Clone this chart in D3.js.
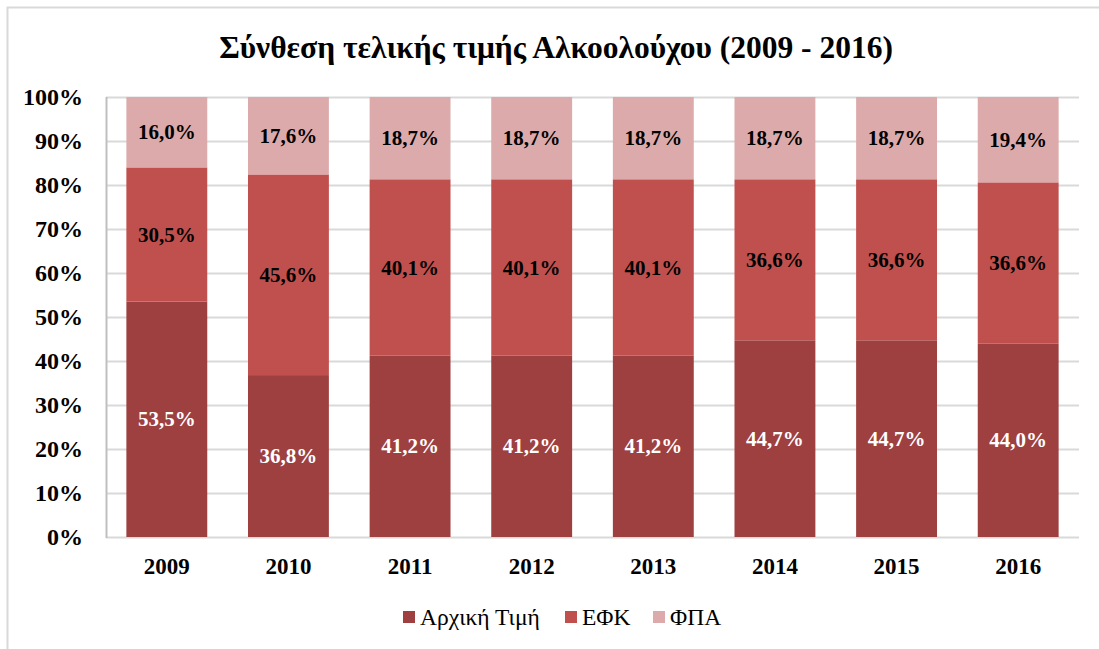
<!DOCTYPE html>
<meta charset="utf-8">
<style>
    body { margin: 0; background: #fff; }
    svg text { font-family: "Liberation Serif", "Times New Roman", serif; }
</style>
<script src="https://d3js.org/d3.v7.min.js"></script>
<body>
<div id="chart"></div>
<script>

    // chart data
    var years = ["2009", "2010", "2011", "2012", "2013", "2014", "2015", "2016"];
    var seriesNames = ["Αρχική Τιμή", "ΕΦΚ", "ΦΠΑ"];
    var arxikiTimi = [53.5, 36.8, 41.2, 41.2, 41.2, 44.7, 44.7, 44.0];
    var efk = [30.5, 45.6, 40.1, 40.1, 40.1, 36.6, 36.6, 36.6];
    var fpa = [16.0, 17.6, 18.7, 18.7, 18.7, 18.7, 18.7, 19.4];
    var yTicks = [0, 10, 20, 30, 40, 50, 60, 70, 80, 90, 100];
    var colors = ["#9e4040", "#c0504d", "#dcaaaa"];
    var labelColors = ["#fff", "#000", "#000"];

    var W = 1099, H = 649;
    var margin = {top: 97, right: 20, bottom: 112, left: 106};
    var width = 1079 - margin.left,
        height = 537 - margin.top;

    var svg = d3.select("#chart")
        .append("svg")
        .attr("width", W)
        .attr("height", H);

    // frame (only top and left edges visible)
    svg.append("path")
        .attr("d", "M7.5," + H + " V7.5 H" + W)
        .attr("fill", "none")
        .attr("stroke", "#d9d9d9")
        .attr("stroke-width", 2);

    svg.append("text")
        .attr("x", 556)
        .attr("y", 58)
        .attr("text-anchor", "middle")
        .style("font-size", "31.5px")
        .style("font-weight", "bold")
        .text("Σύνθεση τελικής τιμής Αλκοολούχου (2009 - 2016)");

    var g = svg.append("g")
        .attr("transform", "translate(" + margin.left + "," + margin.top + ")");

    var x = d3.scaleBand()
        .domain(years)
        .range([0, width])
        .paddingInner(0.335)
        .paddingOuter(0.1675);

    var y = d3.scaleLinear()
        .domain([0, 100])
        .range([height, 0]);

    // gridlines
    g.append("g")
        .selectAll("line")
        .data(yTicks)
        .enter()
        .append("line")
        .attr("x1", 0)
        .attr("x2", width)
        .attr("y1", function (d) { return Math.round(y(d)) + 0.5; })
        .attr("y2", function (d) { return Math.round(y(d)) + 0.5; })
        .attr("stroke", "#d9d9d9")
        .attr("stroke-width", 2);

    var rows = years.map(function (yr, i) {
        return {year: yr, a: arxikiTimi[i], b: efk[i], c: fpa[i]};
    });
    var stack = d3.stack().keys(["a", "b", "c"]);
    var layers = stack(rows);

    var layer = g.selectAll(".layer")
        .data(layers)
        .enter()
        .append("g")
        .attr("fill", function (d, i) { return colors[i]; });

    layer.selectAll("rect")
        .data(function (d) { return d; })
        .enter()
        .append("rect")
        .attr("x", function (d) { return x(d.data.year); })
        .attr("y", function (d) { return y(d[1]); })
        .attr("width", x.bandwidth())
        .attr("height", function (d) { return y(d[0]) - y(d[1]); });

    // value labels
    layers.forEach(function (ly, i) {
        g.append("g")
            .selectAll("text")
            .data(ly)
            .enter()
            .append("text")
            .attr("x", function (d) { return x(d.data.year) + x.bandwidth() / 2; })
            .attr("y", function (d) { return (y(d[0]) + y(d[1])) / 2 + 7; })
            .attr("text-anchor", "middle")
            .attr("fill", labelColors[i])
            .style("font-size", "21px")
            .style("font-weight", "bold")
            .text(function (d) { return (d[1] - d[0]).toFixed(1).replace(".", ",") + "%"; });
    });

    // y axis
    g.append("line")
        .attr("x1", 0.5).attr("x2", 0.5)
        .attr("y1", 0).attr("y2", height + 1)
        .attr("stroke", "#bfbfbf")
        .attr("stroke-width", 2);

    g.append("g")
        .selectAll("text")
        .data(yTicks)
        .enter()
        .append("text")
        .attr("x", -23)
        .attr("y", function (d) { return y(d) + 8; })
        .attr("text-anchor", "end")
        .style("font-size", "24px")
        .style("font-weight", "bold")
        .text(function (d) { return d + "%"; });

    // x labels
    g.append("g")
        .selectAll("text")
        .data(years)
        .enter()
        .append("text")
        .attr("x", function (d) { return x(d) + x.bandwidth() / 2; })
        .attr("y", height + 37)
        .attr("text-anchor", "middle")
        .style("font-size", "23px")
        .style("font-weight", "bold")
        .text(function (d) { return d; });

    // legend
    var legendX = [403, 565, 653];
    var legend = svg.append("g");
    seriesNames.forEach(function (name, i) {
        legend.append("rect")
            .attr("x", legendX[i])
            .attr("y", 611)
            .attr("width", 12)
            .attr("height", 12)
            .attr("fill", colors[i]);
        legend.append("text")
            .attr("x", legendX[i] + 17)
            .attr("y", 625)
            .style("font-size", "23.5px")
            .text(name);
    });

</script>
</body>
